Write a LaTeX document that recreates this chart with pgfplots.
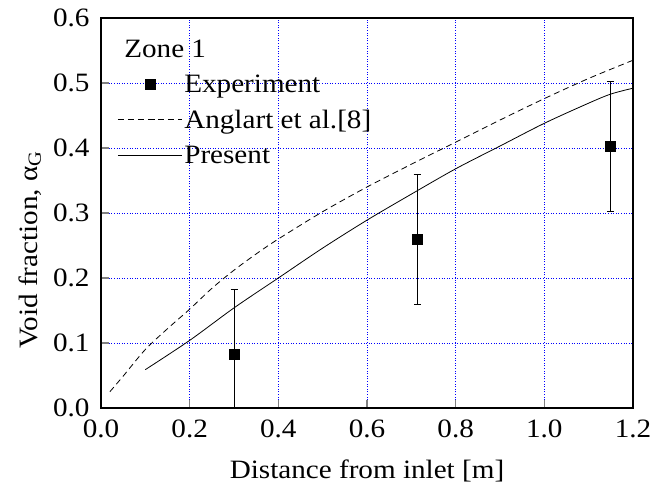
\documentclass[border=0pt]{standalone}
\usepackage{fontspec}
\setmainfont{Liberation Serif}[FakeStretch=1.1]
\usepackage{pgfplots}
\pgfplotsset{compat=1.18}
\begin{document}
\begin{tikzpicture}[font=\fontsize{26.5}{31}\selectfont]
\begin{axis}[
  width=532pt, height=390pt, scale only axis,
  xmin=0, xmax=1.2, ymin=0, ymax=0.6,
  xtick={0,0.2,0.4,0.6,0.8,1.0,1.2},
  ytick={0,0.1,0.2,0.3,0.4,0.5,0.6},
  xtick pos=bottom, ytick pos=left,
  tick align=inside, major tick length=8pt,
  tick style={line width=1.2pt},
  axis line style={line width=1.2pt},
  grid=major,
  major grid style={draw=blue, line width=0.8pt, dash pattern=on 1pt off 1.6pt},
  /pgf/number format/assume math mode=true,
  ticklabel style={font=\fontsize{26.5}{31}\selectfont},
  xticklabel style={yshift=-8pt, /pgf/number format/.cd, fixed, fixed zerofill, precision=1},
  yticklabel style={xshift=-8pt, /pgf/number format/.cd, fixed, fixed zerofill, precision=1},
  xlabel={Distance from inlet [m]},
  ylabel={Void fraction, α\textsubscript{G}},
  xlabel style={at={(axis description cs:0.5,-0.182)}, anchor=base, font=\fontsize{26.5}{31}\selectfont},
  ylabel style={at={(axis description cs:-0.12,0.405)}, anchor=base, font=\fontsize{26.5}{31}\selectfont},
  legend cell align=left,
  legend style={draw=none, fill=none, at={(axis cs:0.03,0.573)}, anchor=north west,
    row sep=12pt, font=\fontsize{26.5}{31}\selectfont},
  legend image code/.code={\draw[mark repeat=2,mark phase=2,#1] plot coordinates {(0pt,0pt) (32pt,0pt) (64pt,0pt)};},
]
\addlegendimage{empty legend}
\addlegendentry{\hspace{-60pt}Zone 1}

\addplot[only marks, mark=square*, mark size=5pt, black,
  error bars/.cd, y dir=both, y explicit,
  error bar style={line width=0.8pt},
  error mark options={rotate=90, mark size=3.5pt, line width=0.8pt}]
coordinates {
  (0.300,0.083) +- (0,0.1)
  (0.713,0.260) +- (0,0.1)
  (1.149,0.403) +- (0,0.1)
};
\addlegendentry{Experiment}

\addplot[black, line width=0.8pt, dash pattern=on 6pt off 4pt, smooth] coordinates {
  (0.02,0.025)(0.05,0.049)(0.10,0.090)(0.15,0.122)(0.20,0.152)(0.25,0.184)
  (0.30,0.212)(0.35,0.237)(0.40,0.260)(0.50,0.302)(0.60,0.340)(0.70,0.375)
  (0.80,0.409)(0.90,0.443)(1.00,0.476)(1.10,0.507)(1.20,0.535)
};
\addlegendentry{Anglart et al.[8]}

\addplot[black, line width=0.8pt, smooth] coordinates {
  (0.10,0.059)(0.20,0.104)(0.30,0.154)(0.40,0.200)(0.50,0.246)(0.60,0.289)
  (0.70,0.329)(0.80,0.368)(0.90,0.403)(1.00,0.438)(1.10,0.469)(1.15,0.483)(1.20,0.492)
};
\addlegendentry{Present}
\end{axis}
\pgfresetboundingbox
\path[use as bounding box] ([shift={(-101pt,-77pt)}]current axis.south west)
  rectangle ([shift={(19pt,18pt)}]current axis.north east);
\end{tikzpicture}
\end{document}
